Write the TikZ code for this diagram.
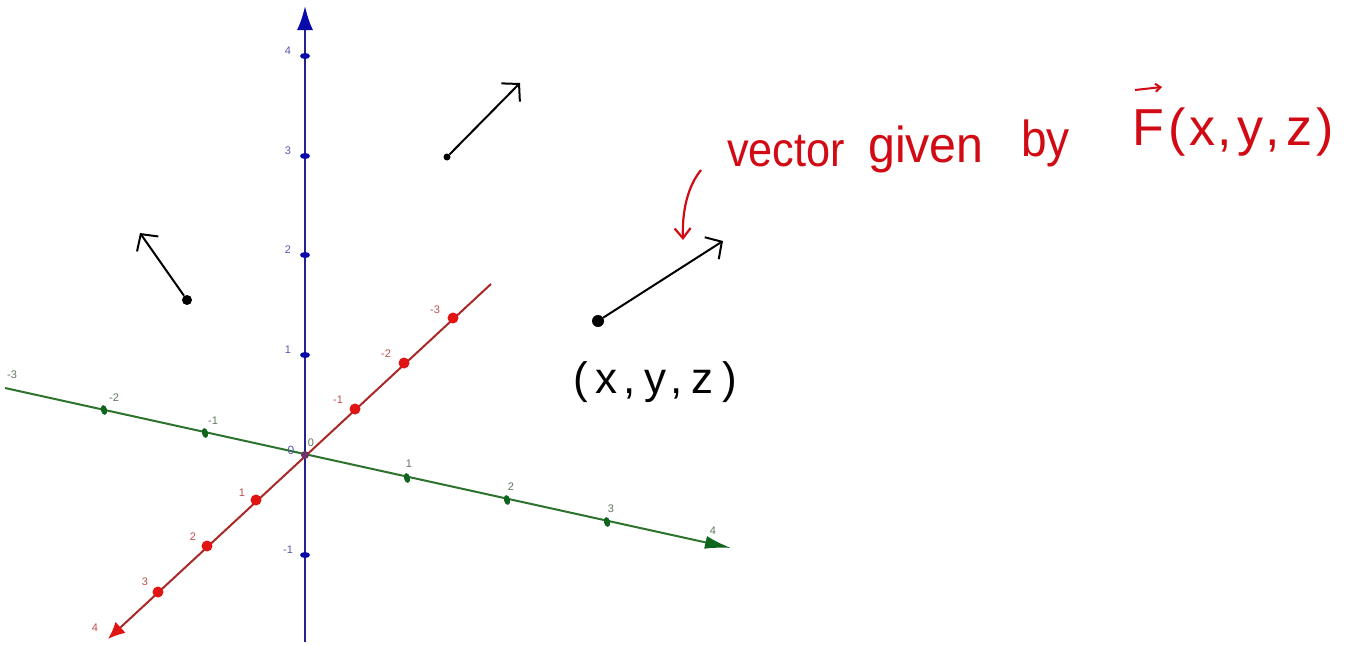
\documentclass[tikz,border=0pt]{standalone}
\usepackage{fontspec}
\setmainfont{Liberation Sans}
\usetikzlibrary{arrows.meta,shapes.geometric}
\definecolor{zline}{RGB}{35,35,140}
\definecolor{zdot}{RGB}{10,10,170}
\definecolor{zlab}{RGB}{90,90,170}
\definecolor{xline}{RGB}{170,40,40}
\definecolor{xdot}{RGB}{225,20,20}
\definecolor{xlab}{RGB}{190,80,80}
\definecolor{yline}{RGB}{45,115,45}
\definecolor{ydot}{RGB}{15,100,30}
\definecolor{ylab}{RGB}{95,120,95}
\definecolor{hand}{RGB}{210,10,20}
\definecolor{orig}{RGB}{110,50,100}
\tikzset{
  zaxis/.style={draw=zline,line width=2.2pt,-{Latex[length=24pt,width=16pt,color=zdot]}},
  xaxis/.style={draw=xline,line width=2pt,-{Latex[length=17pt,width=15pt,color=xdot]}},
  yaxis/.style={draw=yline,line width=2pt,-{Latex[length=26pt,width=13pt,color=ydot]}},
  zdotst/.style={fill=zdot,ellipse,inner sep=0pt,minimum width=10pt,minimum height=6pt},
  xdotst/.style={fill=xdot,circle,inner sep=0pt,minimum size=11pt},
  ydotst/.style={fill=ydot,ellipse,inner sep=0pt,minimum width=6pt,minimum height=10pt,rotate=12},
  zlabst/.style={text=zlab,font=\fontsize{11}{11}\selectfont,inner sep=0pt},
  xlabst/.style={text=xlab,font=\fontsize{11}{11}\selectfont,inner sep=0pt},
  ylabst/.style={text=ylab,font=\fontsize{11}{11}\selectfont,inner sep=0pt},
  bdot/.style={fill=black,circle,inner sep=0pt,minimum size=10pt},
  vec/.style={draw=black,line width=2pt,-{Straight Barb[length=12pt,width=26pt]}},
  handred/.style={text=hand,font=\fontsize{46}{46}\selectfont,inner sep=0pt,anchor=base west},
  handblack/.style={text=black,font=\fontsize{44}{44}\selectfont,inner sep=0pt,anchor=base west}
}
\begin{document}
\begin{tikzpicture}[x=1pt,y=-1pt]
\useasboundingbox (0,0) rectangle (1357,645);
\fill[white] (0,0) rectangle (1357,645);
% axes
\coordinate (O) at (305,455);
\coordinate (zb) at (305,642);
\coordinate (zt) at (305,6);
\coordinate (xb) at (491,284);
\coordinate (xt) at (108,639);
\coordinate (yb) at (5,388);
\coordinate (yt) at (731,548);
\draw[yaxis] (yb) -- (yt);
\draw[xaxis] (xb) -- (xt);
\draw[zaxis] (zb) -- (zt);
% z ticks
\foreach \v/\yy in {4/56,3/156,2/255,1/355,-1/555}{
  \node[zdotst] (z\v) at (305,\yy) {};
  \node[zlabst] (zl\v) at (288,\yy-5) {\v};
}
% x (red) ticks
\foreach \v/\px/\py/\lx/\ly in {-1/355/409/338/400,-2/404/363/386/354,-3/453/318/435/310,1/256/500/242/493,2/207/546/193/537,3/158/592/145/582}{
  \node[xdotst] (x\v) at (\px,\py) {};
  \node[xlabst] (xl\v) at (\lx,\ly) {\v};
}
\node[xlabst] (xl4) at (95,628) {4};
% y (green) ticks
\foreach \v/\px/\py/\lx/\ly in {-2/104/410/114/398,-1/205/433/213/421,1/407/478/409/464,2/507/500/511/487,3/607/522/611/509}{
  \node[ydotst] (y\v) at (\px,\py) {};
  \node[ylabst] (yl\v) at (\lx,\ly) {\v};
}
\node[ylabst] (yl-3) at (12,375) {-3};
\node[ylabst] (yl4) at (713,531) {4};
% origin
\node[fill=orig,circle,inner sep=0pt,minimum size=8pt] (o) at (O) {};
\node[text=zlab,font=\fontsize{12}{12}\selectfont,inner sep=0pt] (o1) at (291,450) {0};
\node[ylabst] (o2) at (311,443) {0};
% field vectors
\node[bdot] (p1) at (187,300) {};
\coordinate (q1) at (140,233);
\draw[vec] (p1) -- (q1);
\node[bdot,minimum size=7pt] (p2) at (447,157) {};
\coordinate (q2) at (520,83);
\draw[vec] (p2) -- (q2);
\node[bdot,minimum size=12pt] (p3) at (598,321) {};
\coordinate (q3) at (723,241);
\draw[vec] (p3) -- (q3);
% handwriting
\node[handblack] (pt) at (573,393) {(\hspace{8pt}x\hspace{6pt},\hspace{8pt}y\hspace{4pt},\hspace{9pt}z\hspace{9pt})};
\node[handred] (w1) at (727,166) {\scalebox{0.94}[1.05]{vector}};
\node[handred] (w2) at (868,162) {\scalebox{1.05}[1.1]{given}};
\node[handred] (w3) at (1021,156) {\scalebox{1}[1.1]{by}};
\node[handred,font=\fontsize{52}{52}\selectfont] (w4) at (1132,145) {F\hspace{5pt}(\hspace{3pt}x\hspace{2pt},\hspace{6pt}y\hspace{2pt},\hspace{6pt}z\hspace{4pt})};
\coordinate (fa) at (1135,90);
\coordinate (fb) at (1162,87);
\draw[hand,line width=2pt,-{Straight Barb[length=5pt,width=8pt]}] (fa) -- (fb);
\coordinate (c1) at (701,170);
\coordinate (c2) at (683,240);
\draw[hand,line width=2.2pt,-{Straight Barb[length=10pt,width=16pt]}] (c1) .. controls (688,186) and (682,210) .. (c2);
\end{tikzpicture}
\end{document}
